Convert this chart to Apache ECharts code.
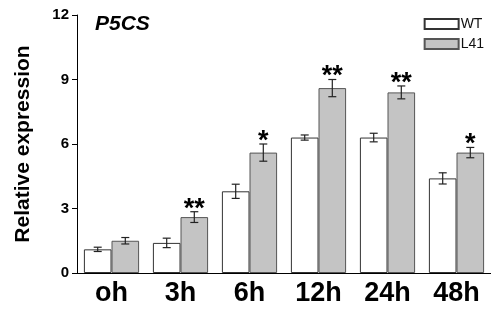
<!DOCTYPE html>
<html>
<head>
<meta charset="utf-8">
<script src="https://cdn.jsdelivr.net/npm/echarts@6/dist/echarts.min.js"></script>
<style>
  html, body { margin: 0; padding: 0; background: #fff; }
  #chart { width: 491px; height: 314px; }
</style>
</head>
<body>
<div id="chart"></div>
<script>
// data
var categories = ['oh', '3h', '6h', '12h', '24h', '48h']
var wtValues = [1.1, 1.4, 3.8, 6.3, 6.3, 4.4]
var wtErrors = [0.1, 0.22, 0.33, 0.12, 0.2, 0.26]
var l41Values = [1.5, 2.6, 5.6, 8.6, 8.4, 5.6]
var l41Errors = [0.15, 0.25, 0.4, 0.4, 0.3, 0.24]
var marks = ['', '**', '*', '**', '**', '*']
var yTicks = [0, 3, 6, 9, 12]

var font = 'Arial, "Liberation Sans", sans-serif'

// error bars (+ significance stars) drawn on top of the bars
function errorSeries (name, values, errors, side, stars) {
  return {
    name: name + '-err',
    type: 'custom',
    z: 5,
    data: values.map(function (v, i) { return [i, v, errors[i], stars ? stars[i] : ''] }),
    renderItem: function (params, api) {
      var idx = api.value(0)
      var v = api.value(1)
      var e = api.value(2)
      var band = api.size([1, 0])[0]
      var x = api.coord([idx, v])[0] + side * band * 0.2
      var top = api.coord([idx, v + e])[1]
      var bot = api.coord([idx, v - e])[1]
      var cap = 4
      var style = { stroke: '#222', lineWidth: 1.2 }
      var children = [
        { type: 'line', shape: { x1: x, y1: top, x2: x, y2: bot }, style: style },
        { type: 'line', shape: { x1: x - cap, y1: top, x2: x + cap, y2: top }, style: style },
        { type: 'line', shape: { x1: x - cap, y1: bot, x2: x + cap, y2: bot }, style: style }
      ]
      var s = api.value(3)
      if (s) {
        children.push({
          type: 'text',
          style: {
            text: s, x: x, y: top + 11, align: 'center', verticalAlign: 'bottom',
            fill: '#000', font: 'bold 27px ' + font
          }
        })
      }
      return { type: 'group', children: children }
    }
  }
}

var chart = echarts.init(document.getElementById('chart'))
chart.setOption({
  animation: false,
  backgroundColor: '#fff',
  title: {
    text: 'P5CS',
    left: 90,
    top: 9,
    textStyle: { fontFamily: font, fontSize: 21, fontWeight: 'bold', fontStyle: 'italic', color: '#000' }
  },
  legend: {
    orient: 'vertical',
    right: 2,
    top: 12,
    itemWidth: 34,
    itemHeight: 10,
    itemGap: 6,
    icon: 'rect',
    data: ['WT', 'L41'],
    textStyle: { fontFamily: font, fontSize: 14, color: '#111', padding: [0, 0, 0, -3] }
  },
  grid: { left: 77, right: -6, top: 15, bottom: 41 },
  xAxis: [{
    type: 'category',
    data: categories,
    axisLine: { lineStyle: { color: '#000', width: 1 } },
    axisTick: { alignWithLabel: true, length: 5, lineStyle: { color: '#000' } },
    axisLabel: { fontFamily: font, fontSize: 27, fontWeight: 'bold', color: '#000', margin: 7 }
  }, {
    type: 'category',
    data: categories,
    position: 'bottom',
    axisLine: { show: false },
    axisTick: { length: 3, lineStyle: { color: '#000' } },
    axisLabel: { show: false }
  }],
  yAxis: {
    type: 'value',
    min: 0,
    max: 12,
    interval: 3,
    name: 'Relative expression',
    nameLocation: 'middle',
    nameGap: 43,
    nameTextStyle: { fontFamily: font, fontSize: 21, fontWeight: 'bold', color: '#000' },
    axisLine: { show: true, lineStyle: { color: '#000', width: 1 } },
    axisTick: { show: true, length: 5, lineStyle: { color: '#000' } },
    splitLine: { show: false },
    axisLabel: {
      fontFamily: font, fontSize: 15, fontWeight: 'bold', color: '#000', margin: 8,
      formatter: function (v) { return yTicks.indexOf(v) >= 0 ? String(v) : '' }
    }
  },
  series: [
    {
      name: 'WT',
      type: 'bar',
      data: wtValues,
      barGap: '0%',
      barCategoryGap: '20%',
      itemStyle: { color: '#fff', borderColor: '#333', borderWidth: 1, borderRadius: 0 }
    },
    {
      name: 'L41',
      type: 'bar',
      data: l41Values,
      itemStyle: { color: '#c4c4c4', borderColor: '#555', borderWidth: 1, borderRadius: 0 }
    },
    errorSeries('WT', wtValues, wtErrors, -1, null),
    errorSeries('L41', l41Values, l41Errors, 1, marks)
  ]
})
</script>
</body>
</html>
